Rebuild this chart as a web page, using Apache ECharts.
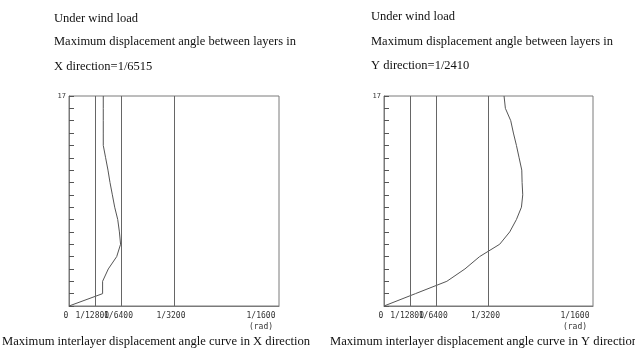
<!DOCTYPE html>
<html><head><meta charset="utf-8">
<script src="https://cdn.jsdelivr.net/npm/echarts@6/dist/echarts.min.js"></script>
<style>html,body{margin:0;padding:0;background:#fff}#c{width:635px;height:350px}</style>
</head><body><div id="c"></div>
<script>
// Layers (storeys) 0..17
const layers = [0,1,2,3,4,5,6,7,8,9,10,11,12,13,14,15,16,17];
// Interlayer displacement angle, in micro-radians (1e-6 rad)
const angleX = [0,100,100,117,142,153.5,150,145,136,129,122,116,109,102,102,102,102,102];
const angleY = [0,94,188,242,286,346,376,396,411,414.9,413,412,404,396,387,379,363,359];
// x-axis reference ticks (micro-radians) and their labels
const tickValues = [0, 78.125, 156.25, 312.5, 625];
const tickLabels = ['0', '1/12800', '1/6400', '1/3200', '1/1600'];
const refLines = [78.125, 156.25, 312.5];
const titlesX = ['Under wind load', 'Maximum displacement angle between layers in', 'X direction=1/6515'];
const titlesY = ['Under wind load', 'Maximum displacement angle between layers in', 'Y direction=1/2410'];
const captionX = 'Maximum interlayer displacement angle curve in X direction';
const captionY = 'Maximum interlayer displacement angle curve in Y direction';

const serif = '"Liberation Serif", "Times New Roman", serif';
const mono = '"DejaVu Sans Mono", "Liberation Mono", monospace';
const gray = '#7a7a7a';

function xAxis(idx) {
  return {
    gridIndex: idx, type: 'value', min: 0, max: 625,
    axisLine: {show: true, lineStyle: {color: gray, width: 1}},
    axisTick: {show: false},
    splitLine: {show: false},
    axisLabel: {
      customValues: tickValues,
      fontFamily: mono, fontSize: 8, color: '#333', margin: 4, lineHeight: 12,
      formatter: function (v) {
        const i = tickValues.findIndex(t => Math.abs(t - v) < 1e-6);
        if (i === 4) return '{e|' + tickLabels[i] + '}\n{e|(rad)}';
        return '{n|' + (i >= 0 ? tickLabels[i] : '') + '}';
      },
      rich: {
        n: {fontFamily: mono, fontSize: 8, color: '#333', padding: [0, 6, 0, 0]},
        e: {fontFamily: mono, fontSize: 8, color: '#333', padding: [0, 36, 0, 0], lineHeight: 11}
      }
    }
  };
}
function yAxis(idx) {
  return {
    gridIndex: idx, type: 'value', min: 0, max: 17, interval: 1,
    axisLine: {show: true, lineStyle: {color: gray, width: 1}},
    axisTick: {show: true, inside: true, length: 5, lineStyle: {color: '#555'}},
    splitLine: {show: false},
    axisLabel: {
      fontFamily: mono, fontSize: 7, color: '#333', margin: 3,
      formatter: v => (v === 17 ? '17' : '')
    }
  };
}
function curve(idx, vals) {
  return {
    type: 'line', xAxisIndex: idx, yAxisIndex: idx,
    data: layers.map((l, i) => [vals[i], l]),
    showSymbol: false, symbol: 'none', smooth: false,
    lineStyle: {color: '#555', width: 1},
    silent: true, animation: false,
    markLine: {
      symbol: 'none', silent: true, animation: false,
      label: {show: false},
      lineStyle: {color: '#666', width: 1, type: 'solid'},
      data: refLines.map(v => ({xAxis: v}))
    }
  };
}
function titleBlock(lines, x, ys) {
  return lines.map((t, i) => ({
    type: 'text', left: x, top: ys[i],
    style: {text: t, font: '12.5px ' + serif, fill: '#111'}
  }));
}

const chart = echarts.init(document.getElementById('c'), null, {renderer: 'canvas'});
chart.setOption({
  animation: false,
  grid: [
    {left: 69, top: 96, width: 210, height: 210, show: true, borderColor: gray, borderWidth: 1, backgroundColor: 'transparent'},
    {left: 384, top: 96, width: 209, height: 210, show: true, borderColor: gray, borderWidth: 1, backgroundColor: 'transparent'}
  ],
  xAxis: [xAxis(0), xAxis(1)],
  yAxis: [yAxis(0), yAxis(1)],
  series: [curve(0, angleX), curve(1, angleY)],
  graphic: [
    ...titleBlock(titlesX, 54, [12, 35, 60]),
    ...titleBlock(titlesY, 371, [10, 35, 59]),
    {type: 'text', left: 2, top: 335, style: {text: captionX, font: '12.6px ' + serif, fill: '#111'}},
    {type: 'text', left: 330, top: 335, style: {text: captionY, font: '12.6px ' + serif, fill: '#111'}}
  ]
});
</script></body></html>
